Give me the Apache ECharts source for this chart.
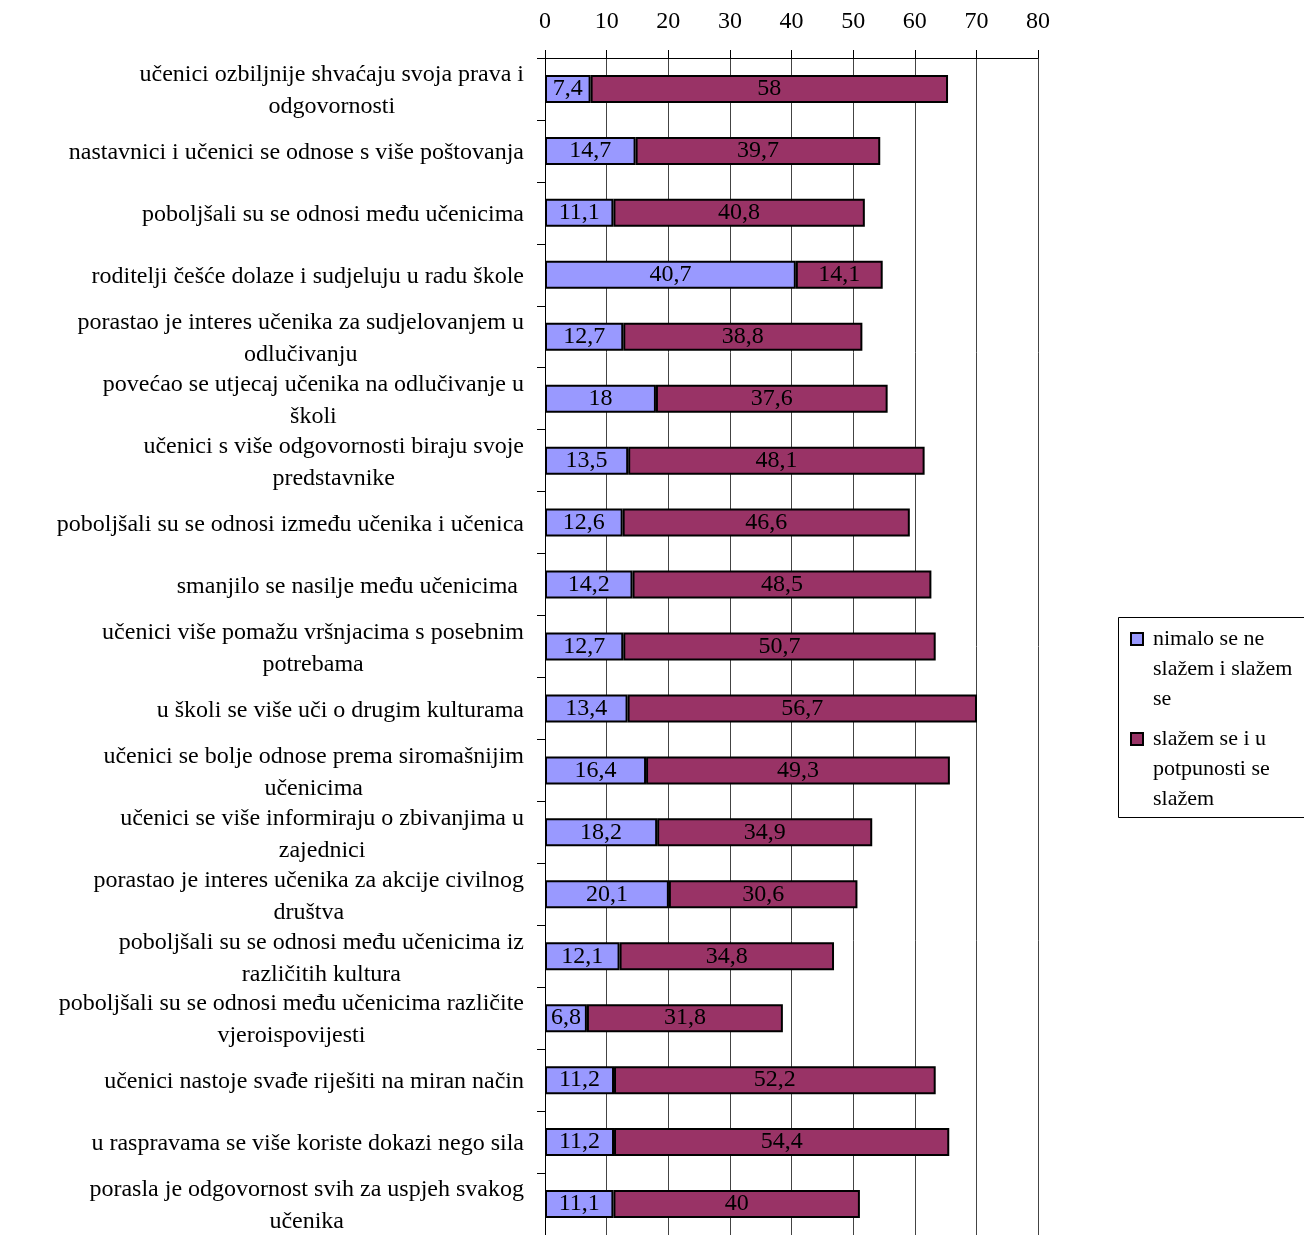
<!DOCTYPE html>
<html>
<head>
<meta charset="utf-8">
<script src="https://cdn.jsdelivr.net/npm/echarts@6/dist/echarts.min.js"></script>
<style>
  html, body { margin: 0; padding: 0; background: #fff; }
  #chart { width: 1304px; height: 1235px; }
</style>
</head>
<body>
<div id="chart"></div>
<script>
// categories, top to bottom
const categories = [
  'učenici ozbiljnije shvaćaju svoja prava i\nodgovornosti',
  'nastavnici i učenici se odnose s više poštovanja',
  'poboljšali su se odnosi među učenicima',
  'roditelji češće dolaze i sudjeluju u radu škole',
  'porastao je interes učenika za sudjelovanjem u\nodlučivanju',
  'povećao se utjecaj učenika na odlučivanje u\nškoli',
  'učenici s više odgovornosti biraju svoje\npredstavnike',
  'poboljšali su se odnosi između učenika i učenica',
  'smanjilo se nasilje među učenicima ',
  'učenici više pomažu vršnjacima s posebnim\npotrebama',
  'u školi se više uči o drugim kulturama',
  'učenici se bolje odnose prema siromašnijim\nučenicima',
  'učenici se više informiraju o zbivanjima u\nzajednici',
  'porastao je interes učenika za akcije civilnog\ndruštva',
  'poboljšali su se odnosi među učenicima iz\nrazličitih kultura',
  'poboljšali su se odnosi među učenicima različite\nvjeroispovijesti',
  'učenici nastoje svađe riješiti na miran način',
  'u raspravama se više koriste dokazi nego sila',
  'porasla je odgovornost svih za uspjeh svakog\nučenika'
];

const seriesNames = [
  'nimalo se ne slažem i slažem se',
  'slažem se i u potpunosti se slažem'
];
// legend text as wrapped in the picture
const legendLines = {
  'nimalo se ne slažem i slažem se': 'nimalo se ne\nslažem i slažem\nse',
  'slažem se i u potpunosti se slažem': 'slažem se i u\npotpunosti se\nslažem'
};

const disagree = [7.4, 14.7, 11.1, 40.7, 12.7, 18, 13.5, 12.6, 14.2, 12.7, 13.4, 16.4, 18.2, 20.1, 12.1, 6.8, 11.2, 11.2, 11.1];
const agree = [58, 39.7, 40.8, 14.1, 38.8, 37.6, 48.1, 46.6, 48.5, 50.7, 56.7, 49.3, 34.9, 30.6, 34.8, 31.8, 52.2, 54.4, 40];

const FONT = '"Liberation Serif", "DejaVu Serif", serif';

const chart = echarts.init(document.getElementById('chart'));

const valueLabel = {
  show: true,
  position: 'inside',
  color: '#000',
  fontFamily: FONT,
  fontSize: 24,
  formatter: p => String(p.value).replace('.', ',')
};

chart.setOption({
  animation: false,
  backgroundColor: '#fff',
  color: ['#9999ff', '#993366'],
  grid: { left: 545, top: 58, width: 493, height: 1180 },
  xAxis: {
    type: 'value',
    position: 'top',
    min: 0,
    max: 80,
    interval: 10,
    axisLine: { show: true, lineStyle: { color: '#000', width: 1 } },
    axisTick: { show: true, length: 8, lineStyle: { color: '#000' } },
    axisLabel: { color: '#000', fontFamily: FONT, fontSize: 24, margin: 24 },
    splitLine: { show: true, lineStyle: { color: '#444', width: 1 } }
  },
  yAxis: {
    type: 'category',
    inverse: true,
    data: categories,
    axisLine: { show: true, lineStyle: { color: '#000', width: 1 } },
    axisTick: { show: true, length: 8, lineStyle: { color: '#000' } },
    axisLabel: {
      color: '#000',
      margin: 21,
      align: 'right',
      formatter: v => v.split('\n').map(l => '{c|' + l + '}').join('\n'),
      rich: {
        c: { align: 'center', fontFamily: FONT, fontSize: 24, lineHeight: 32, color: '#000', padding: [4, 0, 0, 0] }
      }
    }
  },
  legend: {
    orient: 'vertical',
    left: 1130,
    top: 564,
    padding: 0,
    itemWidth: 12,
    itemHeight: 12,
    itemGap: -50,
    icon: 'rect',
    data: seriesNames,
    // two empty lines above push the first text line level with the icon
    formatter: name => '\n\n' + legendLines[name],
    textStyle: { color: '#000', fontFamily: FONT, fontSize: 22, lineHeight: 30, padding: [0, 0, 0, 5] }
  },
  graphic: [{
    type: 'rect',
    shape: { x: 1118.5, y: 617.5, width: 190, height: 200 },
    style: { fill: 'none', stroke: '#000', lineWidth: 1 }
  }],
  series: [
    {
      name: seriesNames[0],
      type: 'bar',
      stack: 'total',
      barWidth: 28,
      data: disagree,
      itemStyle: { color: '#9999ff', borderColor: '#000', borderWidth: 2 },
      label: valueLabel
    },
    {
      name: seriesNames[1],
      type: 'bar',
      stack: 'total',
      barWidth: 28,
      data: agree,
      itemStyle: { color: '#993366', borderColor: '#000', borderWidth: 2 },
      label: valueLabel
    }
  ]
});
</script>
</body>
</html>
